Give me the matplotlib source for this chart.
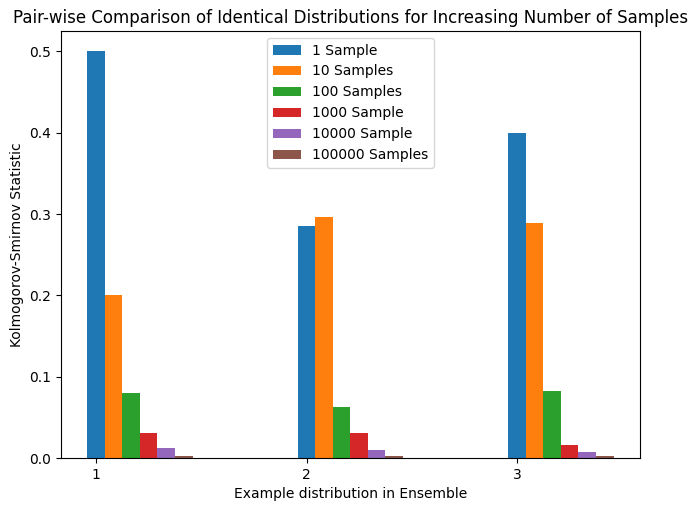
import matplotlib
matplotlib.use("Agg")
import matplotlib.pyplot as plt
import numpy as np

ensemble = [1, 2, 3]
labels = ["1 Sample", "10 Samples", "100 Samples", "1000 Sample", "10000 Sample", "100000 Samples"]
ks_1 = [0.5, 0.285, 0.4]
ks_10 = [0.2, 0.296, 0.289]
ks_100 = [0.08, 0.063, 0.083]
ks_1000 = [0.031, 0.031, 0.016]
ks_10000 = [0.0123, 0.0099, 0.0074]
ks_100000 = [0.0025, 0.0025, 0.0025]

series = [ks_1, ks_10, ks_100, ks_1000, ks_10000, ks_100000]
width = 1 / 12

fig = plt.figure(figsize=(6.97, 5.11), dpi=100)
ax = fig.add_subplot(111)
fig.subplots_adjust(left=0.0875, right=0.918, top=0.9393, bottom=0.1037)

x = np.array(ensemble, dtype=float)
for i, (vals, lab) in enumerate(zip(series, labels)):
    ax.bar(x + i * width, vals, width, label=lab)

ax.set_xticks(ensemble)
ax.set_xlabel("Example distribution in Ensemble")
ax.set_ylabel("Kolmogorov-Smirnov Statistic")
ax.set_title("Pair-wise Comparison of Identical Distributions for Increasing Number of Samples")
ax.legend(loc="upper center")

fig.savefig("out.png")
